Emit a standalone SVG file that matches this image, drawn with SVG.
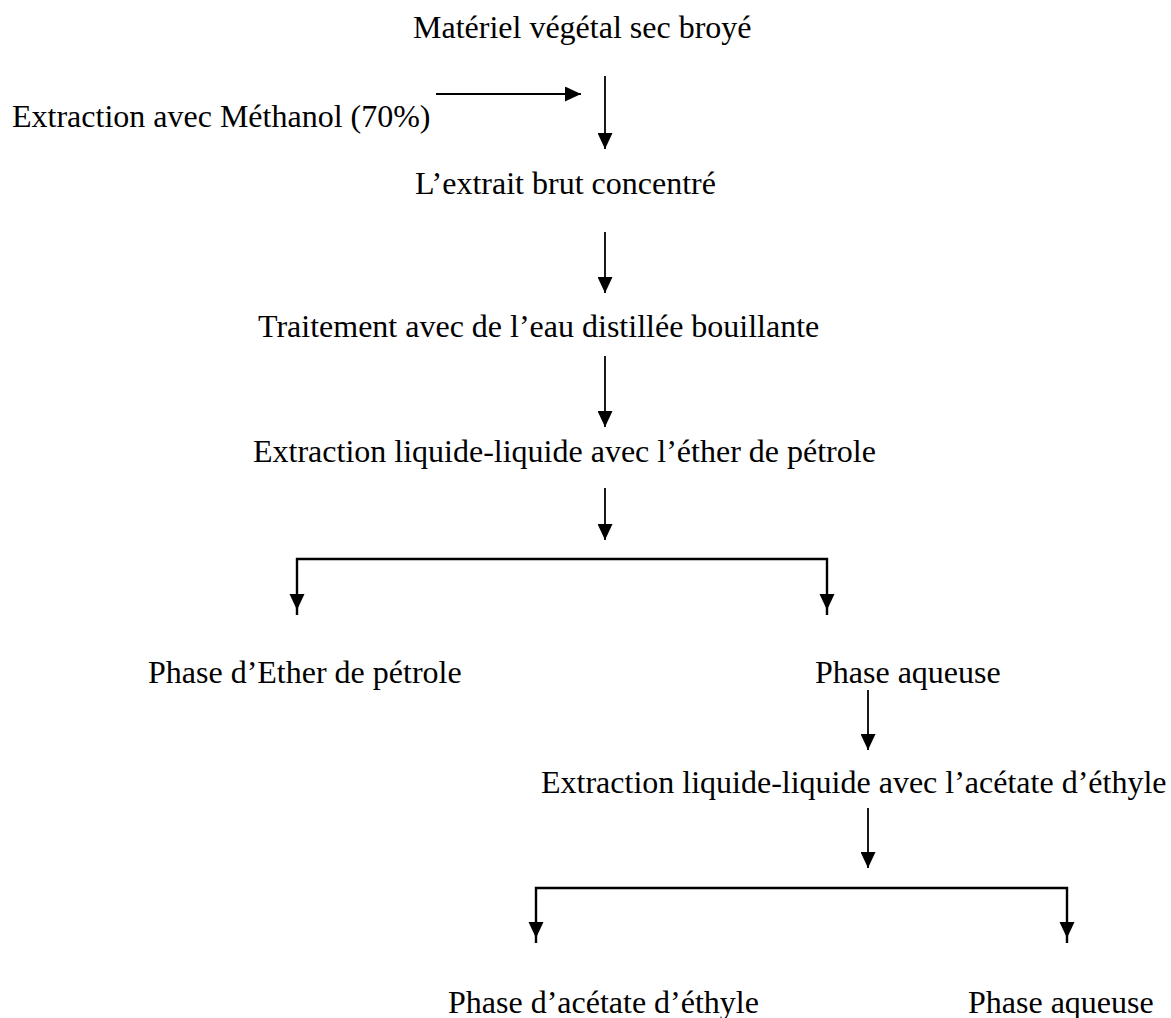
<svg xmlns="http://www.w3.org/2000/svg" width="1171" height="1018" viewBox="0 0 1171 1018">
<defs>
<style>
text{font-family:"Liberation Serif","Times New Roman",serif;font-size:32px;fill:#000}
.a{stroke:#000;stroke-width:1.8;fill:none}
.s{stroke:#000;stroke-width:2.4;fill:none}
</style>
<marker id="ah" viewBox="0 0 16 15" refX="16" refY="7.5" markerWidth="16" markerHeight="15" markerUnits="userSpaceOnUse" orient="auto">
<path d="M0,0 L16,7.5 L0,15 z" fill="#000"/>
</marker>
</defs>
<rect width="1171" height="1018" fill="#fff"/>
<g id="n1"><text x="413" y="38">Matériel végétal sec broyé</text></g>
<g id="n2"><text x="12" y="127">Extraction avec Méthanol (70%)</text></g>
<g id="n3"><text x="415" y="194">L’extrait brut concentré</text></g>
<g id="n4"><text x="258" y="337">Traitement avec de l’eau distillée bouillante</text></g>
<g id="n5"><text x="253" y="462">Extraction liquide-liquide avec l’éther de pétrole</text></g>
<g id="n6"><text x="148" y="683">Phase d’Ether de pétrole</text></g>
<g id="n7"><text x="815" y="683">Phase aqueuse</text></g>
<g id="n8"><text x="541" y="793">Extraction liquide-liquide avec l’acétate d’éthyle</text></g>
<g id="n9"><text x="448" y="1013">Phase d’acétate d’éthyle</text></g>
<g id="n10"><text x="968" y="1013">Phase aqueuse</text></g>
<g id="connectors">
<path class="a" d="M436,94 H581" marker-end="url(#ah)"/>
<path class="a" d="M605,76 V149" marker-end="url(#ah)"/>
<path class="a" d="M605,232 V293" marker-end="url(#ah)"/>
<path class="a" d="M605,356 V427" marker-end="url(#ah)"/>
<path class="a" d="M605,488 V540" marker-end="url(#ah)"/>
<path class="s" d="M297,615 V559 H827 V615"/>
<path d="M289.5,594 L304.5,594 L297,610 z M819.5,594 L834.5,594 L827,610 z" fill="#000"/>
<path class="a" d="M868,690 V750" marker-end="url(#ah)"/>
<path class="a" d="M868,808 V868" marker-end="url(#ah)"/>
<path class="s" d="M536,943 V888 H1067 V943"/>
<path d="M528.5,922 L543.5,922 L536,938 z M1059.5,922 L1074.5,922 L1067,938 z" fill="#000"/>
</g>
</svg>
